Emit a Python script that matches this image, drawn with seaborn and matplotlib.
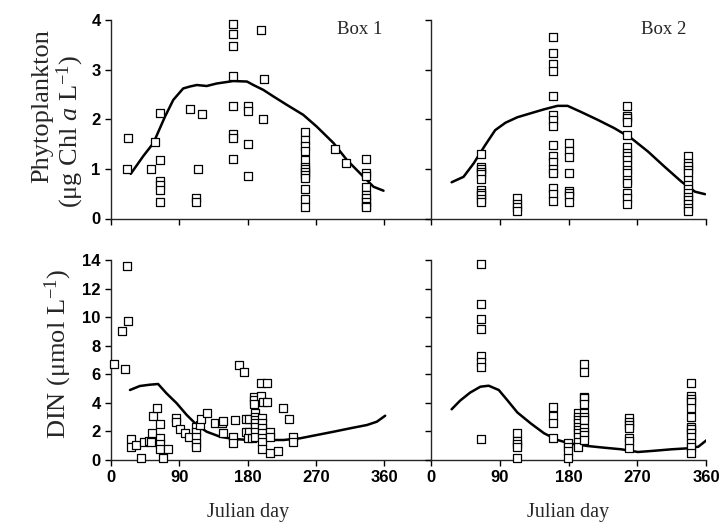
import matplotlib
matplotlib.use("Agg")
import matplotlib.pyplot as plt
import matplotlib.transforms as mtransforms
import seaborn as sns
import pandas as pd

# ---- observations: phytoplankton (ug Chl a / L) ----
box1_chl_day = [23, 21, 58, 64, 53, 64, 64, 64, 64, 64,
                104, 120, 114, 112, 112,
                160, 160, 160, 160, 160, 160, 160, 160,
                197, 202, 180, 180, 200, 180, 180,
                256, 256, 256, 256, 256, 256, 256, 256, 256, 256, 256, 256, 256,
                295, 310,
                336, 336, 336, 336, 336, 336, 336, 336, 336]
box1_chl = [1.62, 0.99, 1.54, 2.12, 0.99, 1.17, 0.76, 0.68, 0.57, 0.33,
            2.21, 2.10, 0.99, 0.42, 0.34,
            3.92, 3.71, 3.47, 2.87, 2.27, 1.70, 1.62, 1.20,
            3.79, 2.81, 2.27, 2.17, 2.01, 1.50, 0.86,
            1.74, 1.58, 1.46, 1.37, 1.17, 1.04, 0.99, 0.94, 0.88, 0.81, 0.59, 0.39, 0.24,
            1.41, 1.12,
            1.20, 0.92, 0.86, 0.64, 0.47, 0.41, 0.34, 0.26, 0.23]

box2_chl_day = ([65] * 11 + [113] * 4 + [160] * 16 + [180.5] * 8
                + [256.5] * 17 + [337] * 14)
box2_chl = [1.29, 1.04, 1.00, 0.94, 0.90, 0.79, 0.57, 0.52, 0.47, 0.39, 0.34,
            0.41, 0.29, 0.23, 0.16,
            3.65, 3.34, 3.11, 2.97, 2.46, 2.09, 1.99, 1.87, 1.48, 1.26, 1.13, 0.99,
            0.92, 0.61, 0.49, 0.36,
            1.53, 1.37, 1.23, 0.91, 0.56, 0.51, 0.46, 0.34,
            2.27, 2.07, 2.02, 1.95, 1.69, 1.45, 1.31, 1.25, 1.18, 1.08, 0.98, 0.91,
            0.78, 0.72, 0.52, 0.41, 0.29,
            1.25, 1.11, 1.06, 0.98, 0.91, 0.78, 0.68, 0.59, 0.51, 0.44, 0.37, 0.29,
            0.21, 0.16]

# ---- observations: DIN (umol / L) ----
box1_din_day = [21.5, 23, 15, 4, 19, 26, 26, 33, 39, 44, 50, 53, 54, 55, 60,
                64, 64, 64, 64, 68, 75, 86, 86, 91, 97, 103,
                112, 112, 112, 112, 112, 117, 118, 127, 137, 146, 147, 147,
                160, 160, 163, 168, 175, 178, 182, 178, 182, 180, 186,
                188, 188, 188, 190, 190, 190, 190, 190, 190, 190,
                198, 200, 198, 205, 205,
                199, 199, 199, 199, 199, 199, 199,
                209, 209, 209, 220, 226, 234, 240, 240]
box1_din = [13.6, 9.75, 9.03, 6.72, 6.39, 1.45, 0.93, 1.05, 0.16, 1.28, 1.33,
            1.28, 1.91, 3.08, 3.62,
            2.52, 1.52, 1.12, 0.77, 0.16, 0.75, 2.92, 2.66, 2.15, 1.91, 1.63,
            2.29, 1.98, 1.63, 1.17, 0.89, 2.45, 2.85, 3.31, 2.61, 2.61, 2.75, 1.87,
            1.63, 1.17, 2.80, 6.65, 6.14, 2.85, 2.85, 1.98, 1.98, 1.52, 1.52,
            4.43, 4.20, 3.92, 3.27, 3.03, 2.80, 2.57, 2.33, 1.98, 1.63,
            4.48, 4.08, 5.37, 5.37, 4.08,
            2.92, 2.57, 2.22, 1.87, 1.52, 1.28, 0.75,
            1.98, 1.63, 0.51, 0.63, 3.62, 2.89, 1.63, 1.28]

box2_din_day = ([65.5] * 8 + [113] * 5 + [160] * 4 + [179.6] * 4
                + [192] * 10 + [200.7] * 12 + [258.7] * 7 + [340] * 13)
box2_din = [13.7, 10.9, 9.87, 9.14, 7.28, 6.88, 6.49, 1.45,
            1.91, 1.35, 1.12, 0.89, 0.16,
            3.69, 3.08, 2.57, 1.52,
            1.17, 0.89, 0.65, 0.16,
            3.27, 3.03, 2.80, 2.57, 2.33, 2.10, 1.87, 1.63, 1.28, 0.93,
            6.72, 6.18, 4.43, 4.32, 3.92, 3.27, 3.03, 2.80, 2.22, 1.98, 1.75, 1.40,
            2.92, 2.68, 2.45, 2.22, 1.52, 1.35, 0.82,
            5.41, 4.48, 4.27, 4.08, 3.62, 2.99, 2.33, 2.15, 1.87, 1.63, 1.21, 0.89,
            0.47]

# ---- model output ----
box1_chl_model_day = [26, 42.6, 55.8, 71, 82, 95, 104, 113, 126, 139, 161, 179,
                      187.5, 200.7, 213.8, 231.5, 253, 271, 293, 310.5, 332.5,
                      345.6, 358.8]
box1_chl_model = [0.90, 1.26, 1.52, 2.05, 2.39, 2.62, 2.66, 2.69, 2.67, 2.72,
                  2.77, 2.76, 2.69, 2.59, 2.46, 2.29, 2.09, 1.85, 1.52, 1.18,
                  0.84, 0.64, 0.56]

box2_chl_model_day = [27, 42.6, 55.8, 71, 84, 97.5, 113, 130.4, 148, 165.6, 178.8,
                      196, 218, 240, 262, 284, 306, 328, 345.6, 358.8]
box2_chl_model = [0.73, 0.84, 1.11, 1.48, 1.78, 1.93, 2.04, 2.12, 2.20, 2.27, 2.27,
                  2.15, 1.99, 1.82, 1.62, 1.35, 1.04, 0.74, 0.54, 0.49]

box1_din_model_day = [25, 38, 51, 62, 73, 86.5, 99.7, 113, 126, 143.6, 161, 183,
                      205, 227, 249, 271, 293, 315, 337, 350, 361]
box1_din_model = [4.90, 5.18, 5.27, 5.32, 4.67, 3.97, 3.15, 2.45, 1.98, 1.63,
                  1.47, 1.40, 1.40, 1.40, 1.52, 1.75, 1.98, 2.22, 2.45, 2.68, 3.10]

box2_din_model_day = [27, 38, 51, 64.6, 75.5, 88.7, 99.7, 113, 130.4, 148, 165.6,
                      181, 205, 227, 249, 271, 293, 315, 337, 350, 361]
box2_din_model = [3.55, 4.15, 4.71, 5.13, 5.20, 4.90, 4.20, 3.33, 2.57, 1.87,
                  1.40, 1.17, 0.98, 0.86, 0.75, 0.56, 0.65, 0.75, 0.82, 0.93, 1.40]

day_ticks = [0, 90, 180, 270, 360]
chl_ticks = [0, 1, 2, 3, 4]
din_ticks = [0, 2, 4, 6, 8, 10, 12, 14]

sns.set_style("ticks")
plt.rcParams["font.family"] = ["Liberation Sans", "DejaVu Sans"]
plt.rcParams["mathtext.fontset"] = "custom"
plt.rcParams["mathtext.rm"] = "Liberation Serif"
plt.rcParams["mathtext.it"] = "Liberation Serif:italic"
plt.rcParams["axes.linewidth"] = 1.0
plt.rcParams["xtick.major.width"] = 1.0
plt.rcParams["ytick.major.width"] = 1.0
plt.rcParams["xtick.major.size"] = 4
plt.rcParams["ytick.major.size"] = 4

fig = plt.figure(figsize=(7.25, 5.28), dpi=100)
W, H = 725.0, 528.0

def make_axes(x0, x1, y_top, y_bot):
    return fig.add_axes([x0 / W, 1 - y_bot / H, (x1 - x0) / W, (y_bot - y_top) / H])

ax_tl = make_axes(111, 430, 20, 218.5)
ax_tr = make_axes(431, 706, 20, 218.5)
ax_bl = make_axes(111, 430, 260, 460)
ax_br = make_axes(431, 706, 260, 460)

serif = ["Liberation Serif", "DejaVu Serif"]

panels = [
    (ax_tl, box1_chl_day, box1_chl, box1_chl_model_day, box1_chl_model),
    (ax_tr, box2_chl_day, box2_chl, box2_chl_model_day, box2_chl_model),
    (ax_bl, box1_din_day, box1_din, box1_din_model_day, box1_din_model),
    (ax_br, box2_din_day, box2_din, box2_din_model_day, box2_din_model),
]

for ax, od, ov, md, mv in panels:
    model = pd.DataFrame({"day": md, "value": mv})
    obs = pd.DataFrame({"day": od, "value": ov})
    sns.lineplot(data=model, x="day", y="value", ax=ax, color="black",
                 linewidth=1.8, estimator=None, sort=False, zorder=2)
    sns.scatterplot(data=obs, x="day", y="value", ax=ax, marker="s", s=26,
                    facecolor="white", edgecolor="black", linewidth=0.9,
                    zorder=3, clip_on=False)
    ax.set_xlabel("")
    ax.set_ylabel("")
    ax.set_xticks(day_ticks)
    sns.despine(ax=ax)
    ax.tick_params(labelsize=12, colors="black", direction="out")

ax_tl.set_xlim(0, 420)
ax_bl.set_xlim(0, 420)
ax_tr.set_xlim(0, 360)
ax_br.set_xlim(0, 360)

for ax in (ax_tl, ax_tr):
    ax.set_ylim(0, 4)
    ax.set_yticks(chl_ticks)
    ax.tick_params(labelbottom=False)
for ax in (ax_bl, ax_br):
    ax.set_ylim(0, 14)
    ax.set_yticks(din_ticks)
for ax in (ax_tr, ax_br):
    ax.tick_params(labelleft=False)

for ax in (ax_tl, ax_tr, ax_bl, ax_br):
    for lab in ax.get_xticklabels() + ax.get_yticklabels():
        lab.set_fontweight("bold")

ax_tl.text(298, 3.8, "Box 1", fontsize=13.5, family=serif, ha="left", va="center")
ax_tr.text(275, 3.8, "Box 2", fontsize=13.5, family=serif, ha="left", va="center")

# y-axis titles, placed in figure pixels
def fig_text(x_px, y_px, s, **kw):
    fig.text(x_px / W, 1 - y_px / H, s, rotation=90, ha="center", va="center",
             family=serif, **kw)

fig_text(42, 106, "Phytoplankton", fontsize=19)
fig_text(70, 131, "(μg Chl $\\mathit{a}$ L$^{-1}$)", fontsize=19)
fig_text(58, 354, "DIN (μmol L$^{-1}$)", fontsize=19)

for ax in (ax_bl, ax_br):
    trans = mtransforms.blended_transform_factory(ax.transData, fig.transFigure)
    ax.text(180, 1 - 512 / H, "Julian day", transform=trans, fontsize=14.5,
            family=serif, ha="center", va="center")

fig.savefig("out.png", dpi=100)
